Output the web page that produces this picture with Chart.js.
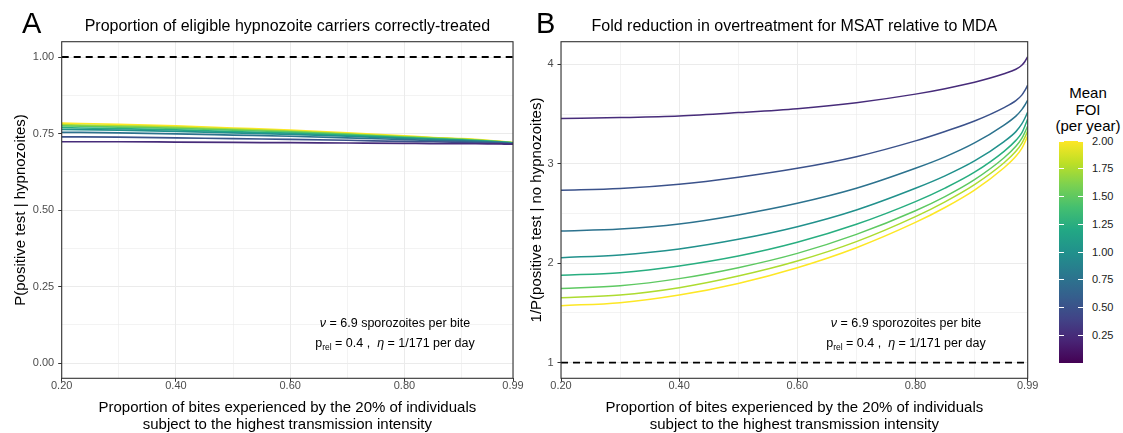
<!DOCTYPE html>
<html>
<head>
<meta charset="utf-8">
<script src="https://cdn.jsdelivr.net/npm/chart.js@4.4.1/dist/chart.umd.min.js"></script>
<style>
  body { margin: 0; background: #fff; font-family: "Liberation Sans", Arial, sans-serif; }
  #wrap { position: relative; width: 1123px; height: 433px; overflow: hidden; background: #fff; }
  canvas { position: absolute; top: 0; }
  .txt { position: absolute; white-space: nowrap; color: #000; }
  .centro { transform: translateX(-50%); }
  .painel { font-size: 29px; line-height: 34px; }
  .titulo { font-size: 16px; line-height: 20px; }
  .nota { font-size: 12.5px; line-height: 16px; }
  .nota sub { font-size: 8.5px; vertical-align: -3px; }
  #barra { position: absolute; }
  .legtick { position: absolute; height: 1px; background: #fff; }
  .leglab { position: absolute; font-size: 11px; line-height: 13px; color: #1a1a1a; }
  .legtit { font-size: 15px; line-height: 16.5px; text-align: center; }
</style>
</head>
<body>
<div id="wrap">
  <canvas id="chartA" width="530" height="433" style="left:0"></canvas>
  <canvas id="chartB" width="515" height="433" style="left:525px"></canvas>

  <div class="txt painel" style="left:22px; top:6px;">A</div>
  <div class="txt painel" style="left:536px; top:6px;">B</div>
  <div class="txt titulo centro" style="left:287.4px; top:15.7px;">Proportion of eligible hypnozoite carriers correctly-treated</div>
  <div class="txt titulo centro" style="left:794.4px; top:15.7px;">Fold reduction in overtreatment for MSAT relative to MDA</div>

  <div class="txt nota centro" style="left:395px; top:315px;"><i>ν</i> = 6.9 sporozoites per bite</div>
  <div class="txt nota centro" style="left:395px; top:335px;">p<sub>rel</sub> = 0.4 ,&nbsp; <i>η</i> = 1/171 per day</div>
  <div class="txt nota centro" style="left:906px; top:315px;"><i>ν</i> = 6.9 sporozoites per bite</div>
  <div class="txt nota centro" style="left:906px; top:335px;">p<sub>rel</sub> = 0.4 ,&nbsp; <i>η</i> = 1/171 per day</div>

  <div class="txt legtit centro" style="left:1088px; top:85px;">Mean<br>FOI<br>(per year)</div>
  <div id="barra"></div>
</div>

<script>
// valores de x (proporção de picadas no top 20%)
const xVals = [0.2, 0.3, 0.4, 0.5, 0.6, 0.7, 0.8, 0.85, 0.9, 0.95, 0.97, 0.98, 0.985, 0.99];

// FOI médio (por ano) de cada curva e suas cores (viridis, 0 a 2)
const foiValores = [0.25, 0.5, 0.75, 1.0, 1.25, 1.5, 1.75, 2.0];
const coresFoi   = ['#472c7a', '#3b528b', '#2c728e', '#21918c', '#28ae80', '#5ec962', '#addc30', '#fde725'];

// Painel A: P(positive test | hypnozoites)
const pA_025 = [0.723, 0.723, 0.722, 0.721, 0.720, 0.719, 0.718, 0.717, 0.717, 0.716, 0.716, 0.715, 0.715, 0.715];
const pA_050 = [0.739, 0.738, 0.736, 0.733, 0.731, 0.728, 0.724, 0.723, 0.721, 0.719, 0.718, 0.717, 0.716, 0.716];
const pA_075 = [0.754, 0.752, 0.749, 0.745, 0.741, 0.736, 0.730, 0.727, 0.725, 0.722, 0.720, 0.719, 0.718, 0.718];
const pA_100 = [0.763, 0.761, 0.757, 0.752, 0.747, 0.741, 0.734, 0.731, 0.728, 0.723, 0.721, 0.720, 0.719, 0.718];
const pA_125 = [0.769, 0.766, 0.762, 0.756, 0.751, 0.744, 0.736, 0.732, 0.729, 0.724, 0.722, 0.720, 0.720, 0.719];
const pA_150 = [0.775, 0.771, 0.767, 0.761, 0.755, 0.747, 0.738, 0.734, 0.731, 0.725, 0.723, 0.721, 0.720, 0.719];
const pA_175 = [0.779, 0.775, 0.771, 0.764, 0.758, 0.749, 0.740, 0.736, 0.732, 0.726, 0.723, 0.722, 0.721, 0.720];
const pA_200 = [0.784, 0.780, 0.775, 0.768, 0.761, 0.752, 0.742, 0.737, 0.733, 0.727, 0.724, 0.722, 0.721, 0.720];

// Painel B: 1/P(positive test | no hypnozoites)
const pB_025 = [3.454, 3.464, 3.480, 3.514, 3.554, 3.614, 3.700, 3.755, 3.820, 3.905, 3.950, 3.990, 4.025, 4.076];
const pB_050 = [2.733, 2.750, 2.793, 2.864, 2.954, 3.071, 3.230, 3.325, 3.430, 3.565, 3.635, 3.690, 3.735, 3.790];
const pB_075 = [2.324, 2.344, 2.394, 2.485, 2.602, 2.753, 2.954, 3.069, 3.209, 3.389, 3.479, 3.544, 3.588, 3.640];
const pB_100 = [2.056, 2.083, 2.143, 2.240, 2.367, 2.535, 2.753, 2.878, 3.028, 3.223, 3.323, 3.400, 3.455, 3.520];
const pB_125 = [1.878, 1.905, 1.972, 2.072, 2.210, 2.391, 2.619, 2.755, 2.915, 3.125, 3.235, 3.310, 3.375, 3.450];
const pB_150 = [1.747, 1.774, 1.845, 1.955, 2.099, 2.290, 2.528, 2.670, 2.840, 3.060, 3.175, 3.255, 3.313, 3.380];
const pB_175 = [1.653, 1.680, 1.754, 1.871, 2.022, 2.217, 2.468, 2.617, 2.790, 3.010, 3.125, 3.205, 3.263, 3.330];
const pB_200 = [1.573, 1.603, 1.680, 1.797, 1.955, 2.156, 2.410, 2.560, 2.735, 2.960, 3.075, 3.155, 3.213, 3.280];

const seriesA = [pA_025, pA_050, pA_075, pA_100, pA_125, pA_150, pA_175, pA_200];
const seriesB = [pB_025, pB_050, pB_075, pB_100, pB_125, pB_150, pB_175, pB_200];

// linha tracejada de referência (y = 1)
const refY = 1;

// ticks
const xMajor  = [0.2, 0.4, 0.6, 0.8, 0.99];
const xMinor  = [0.3, 0.5, 0.7, 0.9];
const yMajorA = [0, 0.25, 0.5, 0.75, 1.0];
const yMinorA = [0.125, 0.375, 0.625, 0.875];
const yMajorB = [1, 2, 3, 4];
const yMinorB = [1.5, 2.5, 3.5];
const legendaTicks = [0.25, 0.5, 0.75, 1.0, 1.25, 1.5, 1.75, 2.0];

const tituloX = ['Proportion of bites experienced by the 20% of individuals',
                 'subject to the highest transmission intensity'];

const FONTE = '"Liberation Sans", Arial, sans-serif';

// borda do painel (theme_bw)
const bordaPainel = {
  id: 'bordaPainel',
  afterDraw(chart) {
    const { ctx, chartArea: a } = chart;
    ctx.save();
    ctx.strokeStyle = '#333333';
    ctx.lineWidth = 1.1;
    ctx.strokeRect(a.left, a.top, a.right - a.left, a.bottom - a.top);
    ctx.restore();
  }
};

function ehMajor(lista, c) {
  return c.tick && lista.some(v => Math.abs(v - c.tick.value) < 1e-9);
}

function eixoX() {
  return {
    type: 'linear', min: 0.2, max: 0.99,
    afterBuildTicks: s => { s.ticks = [...xMajor, ...xMinor].sort((a, b) => a - b).map(v => ({ value: v })); },
    afterFit: s => { s.height = 433 - 378.3; s.paddingLeft = 0; s.paddingRight = 0; },
    border: { display: false },
    grid: {
      color: '#ebebeb',
      lineWidth: c => ehMajor(xMajor, c) ? 1 : 0.6,
      tickLength: 3.5,
      tickColor: c => ehMajor(xMajor, c) ? '#333333' : 'rgba(0,0,0,0)',
      tickWidth: 1
    },
    ticks: {
      autoSkip: false, maxRotation: 0, padding: -2, color: '#4d4d4d',
      font: { family: FONTE, size: 11 },
      callback: v => xMajor.some(m => Math.abs(m - v) < 1e-9) ? v.toFixed(2) : ''
    },
    title: {
      display: true, text: tituloX, color: '#000',
      font: { family: FONTE, size: 15, lineHeight: 1.13 },
      padding: { top: 0, bottom: 0 }
    }
  };
}

function eixoY(min, max, major, minor, largura, titulo, padTitulo, fmt) {
  return {
    type: 'linear', min, max,
    afterBuildTicks: s => { s.ticks = [...major, ...minor].sort((a, b) => a - b).map(v => ({ value: v })); },
    afterFit: s => { s.width = largura; s.paddingTop = 0; s.paddingBottom = 0; },
    border: { display: false },
    grid: {
      color: '#ebebeb',
      lineWidth: c => ehMajor(major, c) ? 1 : 0.6,
      tickLength: 3.5,
      tickColor: c => ehMajor(major, c) ? '#333333' : 'rgba(0,0,0,0)',
      tickWidth: 1
    },
    ticks: {
      autoSkip: false, padding: 4, color: '#4d4d4d',
      font: { family: FONTE, size: 11 },
      callback: v => major.some(m => Math.abs(m - v) < 1e-9) ? fmt(v) : ''
    },
    title: {
      display: true, text: titulo, color: '#000',
      font: { family: FONTE, size: 15 },
      padding: { top: padTitulo, bottom: 0 }
    }
  };
}

function montarDatasets(series, largura) {
  const ds = series.map((serie, i) => ({
    label: 'FOI ' + foiValores[i],
    data: xVals.map((x, j) => ({ x, y: serie[j] })),
    borderColor: coresFoi[i],
    borderWidth: largura,
    pointRadius: 0,
    fill: false,
    cubicInterpolationMode: 'monotone'
  }));
  ds.push({
    label: 'ref',
    data: [{ x: xVals[0], y: refY }, { x: xVals[xVals.length - 1], y: refY }],
    borderColor: '#000',
    borderWidth: 1.8,
    borderDash: [7, 5],
    pointRadius: 0,
    fill: false
  });
  return ds;
}

function criarGrafico(id, series, padding, eixoYcfg, largLinha) {
  return new Chart(document.getElementById(id).getContext('2d'), {
    type: 'line',
    data: { datasets: montarDatasets(series, largLinha) },
    options: {
      responsive: false,
      animation: false,
      layout: { padding },
      plugins: { legend: { display: false }, tooltip: { enabled: false } },
      scales: { x: eixoX(), y: eixoYcfg }
    },
    plugins: [bordaPainel]
  });
}

criarGrafico('chartA', seriesA,
  { left: 0, top: 41.7, right: 530 - 513, bottom: 0 },
  eixoY(-0.05, 1.05, yMajorA, yMinorA, 61.7, 'P(positive test | hypnozoites)', 12, v => v.toFixed(2)), 1.7);

criarGrafico('chartB', seriesB,
  { left: 0, top: 41.7, right: 1040 - 1027.7, bottom: 0 },
  eixoY(0.843, 4.227, yMajorB, yMinorB, 36, '1/P(positive test | no hypnozoites)', 3, v => String(v)), 1.5);

// barra de cores (legenda contínua)
function desenharLegenda() {
  const topo = 141, base = 363, esq = 1059, larg = 24;
  const maxV = legendaTicks[legendaTicks.length - 1];
  const barra = document.getElementById('barra');
  barra.style.left = esq + 'px';
  barra.style.top = topo + 'px';
  barra.style.width = larg + 'px';
  barra.style.height = (base - topo) + 'px';
  barra.style.background = 'linear-gradient(to top, #440154 0%, #482475 10%, #414487 20%, #355f8d 30%, #2a788e 40%, #21918c 50%, #22a884 60%, #44bf70 70%, #7ad151 80%, #bddf26 90%, #fde725 100%)';

  const wrap = document.getElementById('wrap');
  legendaTicks.forEach(v => {
    const y = base - (v / maxV) * (base - topo);
    [esq, esq + larg - 5].forEach(x => {
      const t = document.createElement('div');
      t.className = 'legtick';
      t.style.left = x + 'px';
      t.style.top = (y - 0.5) + 'px';
      t.style.width = '5px';
      wrap.appendChild(t);
    });
    const lab = document.createElement('div');
    lab.className = 'leglab';
    lab.style.left = '1092px';
    lab.style.top = (y - 6.5) + 'px';
    lab.textContent = v.toFixed(2);
    wrap.appendChild(lab);
  });
}

desenharLegenda();
</script>
</body>
</html>
